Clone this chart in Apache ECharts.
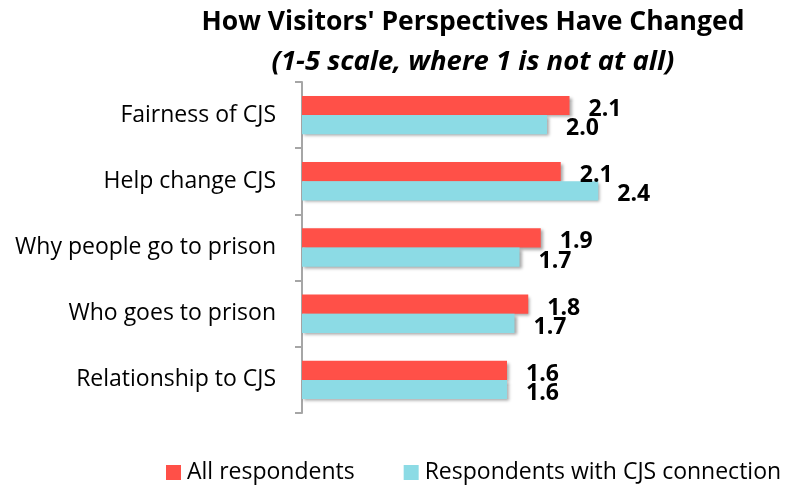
<!DOCTYPE html>
<html>
<head>
<meta charset="utf-8">
<script src="https://cdn.jsdelivr.net/npm/echarts@6/dist/echarts.min.js"></script>
<style>
  html, body { margin: 0; padding: 0; background: #fff; }
  #chart { width: 789px; height: 487px; }
</style>
</head>
<body>
<div id="chart"></div>
<script>
// Categories, top to bottom
var categories = ['Fairness of CJS', 'Help change CJS', 'Why people go to prison', 'Who goes to prison', 'Relationship to CJS'];
// Mean scores (1-5 scale)
var allRespondents = [2.14, 2.07, 1.91, 1.81, 1.64];
var cjsConnection = [1.96, 2.37, 1.74, 1.70, 1.64];
var seriesNames = ['All respondents', 'Respondents with CJS connection'];

var font = 'Open Sans';

var chart = echarts.init(document.getElementById('chart'));

var labelStyle = {
  show: true,
  position: 'right',
  distance: 19,
  offset: [0, 4],
  color: '#000',
  fontFamily: font,
  fontWeight: 'bold',
  fontSize: 23,
  formatter: function (p) { return p.value.toFixed(1); }
};

var option = {
  animation: false,
  title: {
    text: "How Visitors' Perspectives Have Changed",
    subtext: '(1-5 scale, where 1 is not at all)',
    left: 473,
    top: 9,
    padding: 0,
    textAlign: 'center',
    itemGap: 12,
    textStyle: { color: '#000', fontFamily: font, fontWeight: 'bold', fontSize: 26.5, lineHeight: 26 },
    subtextStyle: { color: '#000', fontFamily: font, fontWeight: 'bold', fontStyle: 'italic', fontSize: 27.5, lineHeight: 28 }
  },
  legend: {
    data: seriesNames,
    left: 166,
    top: 461,
    padding: 0,
    icon: 'rect',
    itemWidth: 15,
    itemHeight: 15,
    itemGap: 49,
    textStyle: { color: '#000', fontFamily: font, fontSize: 23, lineHeight: 15, padding: [0, 0, 0, 1] }
  },
  grid: { left: 302, top: 82, width: 375, height: 331 },
  xAxis: {
    type: 'value',
    min: 0,
    max: 3,
    show: false
  },
  yAxis: {
    type: 'category',
    data: categories,
    inverse: true,
    axisLine: { show: true, lineStyle: { color: '#a6a6a6', width: 2 } },
    axisTick: { show: true, length: 7, lineStyle: { color: '#a6a6a6', width: 2 } },
    axisLabel: { color: '#000', fontFamily: font, fontSize: 23, margin: 26 }
  },
  series: [
    {
      name: seriesNames[0],
      type: 'bar',
      data: allRespondents,
      barGap: '0%',
      barCategoryGap: '42%',
      itemStyle: { color: '#ff5048', shadowColor: 'rgba(0,0,0,0.35)', shadowBlur: 3, shadowOffsetX: 2, shadowOffsetY: 2 },
      label: labelStyle
    },
    {
      name: seriesNames[1],
      type: 'bar',
      data: cjsConnection,
      barGap: '0%',
      barCategoryGap: '42%',
      itemStyle: { color: '#8cdbe5', shadowColor: 'rgba(0,0,0,0.35)', shadowBlur: 3, shadowOffsetX: 2, shadowOffsetY: 2 },
      label: labelStyle
    }
  ]
};

chart.setOption(option);
</script>
</body>
</html>
